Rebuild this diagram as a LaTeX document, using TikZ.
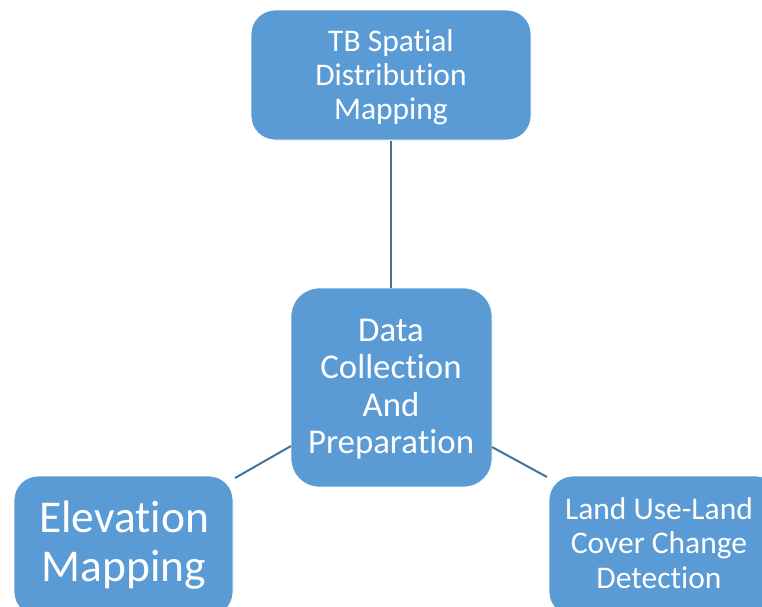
\documentclass[tikz,border=0pt]{standalone}
\usepackage{fontspec}
\setmainfont{Carlito}[Ligatures={NoCommon,NoDiscretionary,NoRare,NoContextual}]
\newcommand{\nolig}{\kern0pt}
\definecolor{boxblue}{HTML}{5B9BD5}
\definecolor{linkblue}{HTML}{41719C}
\begin{document}
\begin{tikzpicture}[x=1pt,y=-1pt,
  box/.style={draw=white,line width=0.8pt,fill=boxblue,rounded corners=#1},
  link/.style={draw=linkblue,line width=2pt},
  lbl/.style={text=white,align=center,inner sep=0pt}]
\useasboundingbox (0,0) rectangle (762,606);
\begin{scope}
\clip (0,0) rectangle (762,606);
% boxes
\draw[box=24pt] (251,10) rectangle (531,140);
\draw[box=28pt] (291,288) rectangle (492,487);
\draw[box=24pt] (14,476) rectangle (233,616);
\draw[box=24pt] (549,476) rectangle (780,616);
\coordinate (topB) at (391,141);
\coordinate (cenT) at (391,288);
\coordinate (cenL) at (291,446);
\coordinate (cenR) at (492,447);
\coordinate (lftB) at (235,478);
\coordinate (rgtB) at (547,477);
\draw[link] (topB) -- (cenT);
\draw[link] (cenL) -- (lftB);
\draw[link] (cenR) -- (rgtB);
% labels
\node[lbl,font=\fontsize{31.5}{34}\selectfont] (top) at (391,77) {TB Spat\nolig ial\\Distribut\nolig ion\\Mapping};
\node[lbl,font=\fontsize{34.8}{37.5}\selectfont] (cen) at (391,389) {Data\\Collect\nolig ion\\And\\Preparat\nolig ion};
\node[lbl,font=\fontsize{45.5}{49}\selectfont] (lft) at (124,545) {Elevat\nolig ion\\Mapping};
\node[lbl,font=\fontsize{31.5}{34.5}\selectfont] (rgt) at (659,543) {Land Use-Land\\Cover Change\\Detect\nolig ion};
\end{scope}
\end{tikzpicture}
\end{document}
